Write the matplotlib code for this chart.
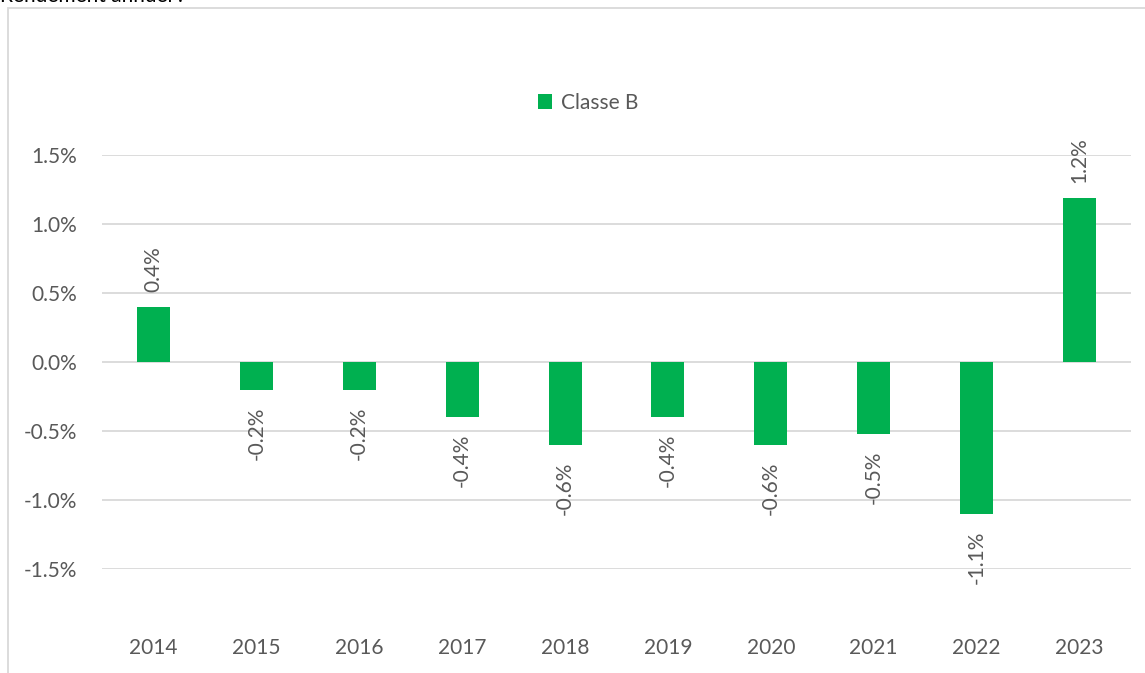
import matplotlib
matplotlib.use("Agg")
import matplotlib.pyplot as plt
from matplotlib.patches import Rectangle

years = ["2014", "2015", "2016", "2017", "2018", "2019", "2020", "2021", "2022", "2023"]
values = [0.4, -0.2, -0.2, -0.4, -0.6, -0.4, -0.6, -0.52, -1.1, 1.19]
labels = ["0.4%", "-0.2%", "-0.2%", "-0.4%", "-0.6%", "-0.4%", "-0.6%", "-0.5%", "-1.1%", "1.2%"]
yticks = [-1.5, -1.0, -0.5, 0.0, 0.5, 1.0, 1.5]
series_name = "Classe B"

plt.rcParams['font.family'] = ['Lato', 'DejaVu Sans']
W, H = 1145, 673
fig = plt.figure(figsize=(W / 100, H / 100), dpi=100)
TXT = "#595959"
GRID = "#d9d9d9"
GREEN = "#00b050"

# outer chart frame
fig.patches.append(Rectangle((8 / W, -0.05), 1.2, 1 - 8 / H + 0.05, transform=fig.transFigure,
                             fill=False, edgecolor=GRID, linewidth=1.3))
fig.text(0.0, 1 - 2 / H, "Rendement annuel :", fontsize=15, color="#000000",
         ha="left", va="baseline")

ax = fig.add_axes([102 / W, (H - 569) / H, (1131 - 102) / W, (569 - 155) / H])
x = list(range(len(years)))
bars = ax.bar(x, values, width=0.32, color=GREEN, label=series_name, zorder=3)
ax.set_xlim(-0.5, len(years) - 0.5)
ax.set_ylim(-1.5, 1.5)
ax.set_yticks(yticks)
ax.set_yticklabels([f"{t:.1f}%" for t in yticks])
ax.set_xticks(x)
ax.set_xticklabels(years)
for s in ax.spines.values():
    s.set_visible(False)
ax.grid(axis="y", color=GRID, linewidth=1.3, zorder=0)
ax.tick_params(axis="both", length=0, labelsize=15, colors=TXT)
ax.tick_params(axis="x", pad=50)
ax.tick_params(axis="y", pad=18)

for xi, v, lab in zip(x, values, labels):
    if v >= 0:
        ax.annotate(lab, (xi, v), xytext=(0, 11), textcoords="offset points",
                    rotation=90, ha="center", va="bottom", fontsize=15, color=TXT)
    else:
        ax.annotate(lab, (xi, v), xytext=(0, -12), textcoords="offset points",
                    rotation=90, ha="center", va="top", fontsize=15, color=TXT)

fig.legend(handles=[bars], labels=[series_name], loc="center",
           bbox_to_anchor=(588 / W, 1 - 103 / H), frameon=False, fontsize=15,
           handlelength=0.7, handleheight=0.7, handletextpad=0.4, labelcolor=TXT)

fig.savefig("out.png", dpi=100)
